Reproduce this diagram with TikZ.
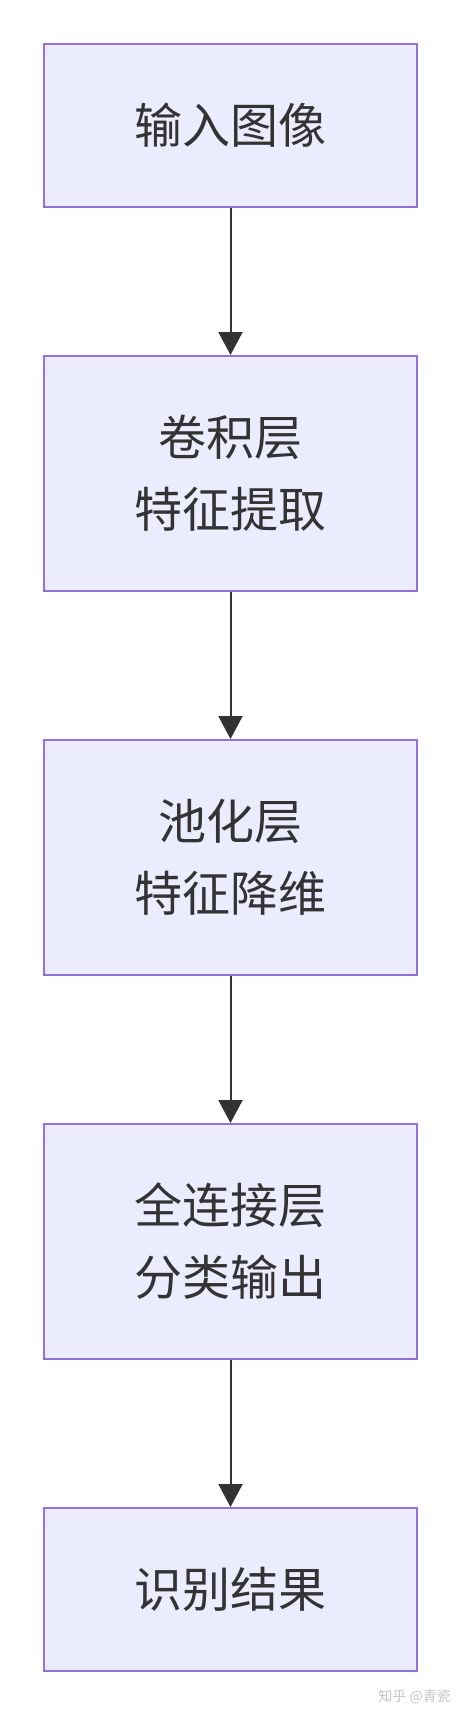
\documentclass[tikz,border=0pt]{standalone}
\usepackage{fontspec}
\setmainfont{Noto Sans CJK SC}
\usetikzlibrary{arrows.meta}
\definecolor{boxfill}{HTML}{ECECFF}
\definecolor{boxline}{HTML}{9370DB}
\definecolor{ink}{HTML}{333333}
\definecolor{wm}{HTML}{C4C4C4}
\begin{document}
\begin{tikzpicture}[x=1pt,y=-1pt,
  stepbox/.style={draw=boxline,fill=boxfill,line width=2pt,minimum width=373pt,
    inner sep=0pt,text=ink,align=center,font=\fontsize{48}{72}\selectfont},
  shortbox/.style={stepbox,minimum height=163pt},
  tallbox/.style={stepbox,minimum height=235pt},
  flow/.style={draw=ink,line width=2pt,-{Triangle[length=23pt,width=24pt]}}]
\useasboundingbox (0,0) rectangle (462,1716);
\node[shortbox] (n1) at (230.5,125.5) {输入图像};
\node[tallbox]  (n2) at (230.5,473.5) {卷积层\\特征提取};
\node[tallbox]  (n3) at (230.5,857.5) {池化层\\特征降维};
\node[tallbox]  (n4) at (230.5,1241.5) {全连接层\\分类输出};
\node[shortbox] (n5) at (230.5,1589.5) {识别结果};
\draw[flow] (n1) -- (n2);
\draw[flow] (n2) -- (n3);
\draw[flow] (n3) -- (n4);
\draw[flow] (n4) -- (n5);
\node[text=wm,font=\fontsize{14}{16}\selectfont,anchor=east,inner sep=0pt] (wmk) at (451,1697) {知乎 @青瓷};
\end{tikzpicture}
\end{document}
